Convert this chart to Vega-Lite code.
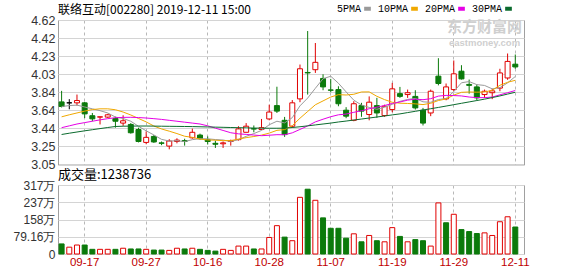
{
"$schema":"https://vega.github.io/schema/vega-lite/v6.json",
"background":"white",
"padding":{"left":12,"top":3,"right":50,"bottom":0},
"spacing":-4,
"config":{"view":{"stroke":"#a0a0a0","strokeWidth":1},"font":"Liberation Sans","axis":{"labelFont":"Liberation Sans"},
"axisQuantitative":{"labelOverlap":false}},
"datasets":{"k":[
{"d":"09-11","o":3.73,"h":3.85,"l":3.67,"c":3.68,"v":462000,"vd":"d","m5":3.68,"m10":3.568,"m20":3.45,"m30":3.376},
{"d":"09-12","o":3.72,"h":3.76,"l":3.65,"c":3.72,"v":313000,"vd":"u","m5":3.69,"m10":3.59,"m20":3.47,"m30":3.39},
{"d":"09-16","o":3.72,"h":3.81,"l":3.69,"c":3.745,"v":412000,"vd":"u","m5":3.695,"m10":3.61,"m20":3.49,"m30":3.403},
{"d":"09-17","o":3.72,"h":3.73,"l":3.555,"c":3.60,"v":412000,"vd":"d","m5":3.675,"m10":3.63,"m20":3.505,"m30":3.416},
{"d":"09-18","o":3.58,"h":3.61,"l":3.52,"c":3.546,"v":214000,"vd":"d","m5":3.655,"m10":3.647,"m20":3.52,"m30":3.428},
{"d":"09-19","o":3.565,"h":3.57,"l":3.485,"c":3.568,"v":214000,"vd":"u","m5":3.635,"m10":3.655,"m20":3.535,"m30":3.44},
{"d":"09-20","o":3.565,"h":3.60,"l":3.555,"c":3.59,"v":214000,"vd":"u","m5":3.61,"m10":3.655,"m20":3.548,"m30":3.452},
{"d":"09-23","o":3.55,"h":3.57,"l":3.45,"c":3.52,"v":214000,"vd":"d","m5":3.565,"m10":3.645,"m20":3.558,"m30":3.463},
{"d":"09-24","o":3.50,"h":3.585,"l":3.47,"c":3.525,"v":264000,"vd":"u","m5":3.55,"m10":3.62,"m20":3.562,"m30":3.466},
{"d":"09-25","o":3.485,"h":3.50,"l":3.385,"c":3.395,"v":231000,"vd":"d","m5":3.52,"m10":3.588,"m20":3.563,"m30":3.467},
{"d":"09-26","o":3.43,"h":3.45,"l":3.29,"c":3.30,"v":231000,"vd":"d","m5":3.465,"m10":3.55,"m20":3.56,"m30":3.468},
{"d":"09-27","o":3.29,"h":3.41,"l":3.27,"c":3.345,"v":214000,"vd":"u","m5":3.416,"m10":3.513,"m20":3.555,"m30":3.468},
{"d":"09-30","o":3.355,"h":3.37,"l":3.285,"c":3.295,"v":181000,"vd":"d","m5":3.371,"m10":3.468,"m20":3.548,"m30":3.467},
{"d":"10-08","o":3.285,"h":3.30,"l":3.26,"c":3.28,"v":181000,"vd":"d","m5":3.323,"m10":3.436,"m20":3.54,"m30":3.466},
{"d":"10-09","o":3.25,"h":3.325,"l":3.215,"c":3.305,"v":165000,"vd":"u","m5":3.305,"m10":3.412,"m20":3.53,"m30":3.465},
{"d":"10-10","o":3.30,"h":3.335,"l":3.28,"c":3.315,"v":264000,"vd":"u","m5":3.308,"m10":3.386,"m20":3.52,"m30":3.464},
{"d":"10-11","o":3.31,"h":3.33,"l":3.255,"c":3.30,"v":231000,"vd":"d","m5":3.299,"m10":3.357,"m20":3.51,"m30":3.463},
{"d":"10-14","o":3.34,"h":3.44,"l":3.33,"c":3.40,"v":264000,"vd":"u","m5":3.32,"m10":3.345,"m20":3.50,"m30":3.462},
{"d":"10-15","o":3.37,"h":3.385,"l":3.32,"c":3.33,"v":214000,"vd":"d","m5":3.33,"m10":3.326,"m20":3.49,"m30":3.46},
{"d":"10-16","o":3.32,"h":3.355,"l":3.267,"c":3.30,"v":165000,"vd":"d","m5":3.329,"m10":3.317,"m20":3.47,"m30":3.458},
{"d":"10-17","o":3.28,"h":3.31,"l":3.23,"c":3.27,"v":132000,"vd":"d","m5":3.321,"m10":3.314,"m20":3.445,"m30":3.456},
{"d":"10-18","o":3.275,"h":3.30,"l":3.23,"c":3.285,"v":214000,"vd":"u","m5":3.316,"m10":3.309,"m20":3.42,"m30":3.454},
{"d":"10-21","o":3.30,"h":3.32,"l":3.255,"c":3.31,"v":165000,"vd":"u","m5":3.30,"m10":3.31,"m20":3.395,"m30":3.452},
{"d":"10-22","o":3.32,"h":3.466,"l":3.31,"c":3.437,"v":363000,"vd":"u","m5":3.32,"m10":3.326,"m20":3.383,"m30":3.45},
{"d":"10-23","o":3.40,"h":3.50,"l":3.40,"c":3.466,"v":363000,"vd":"u","m5":3.356,"m10":3.342,"m20":3.377,"m30":3.448},
{"d":"10-24","o":3.44,"h":3.474,"l":3.40,"c":3.435,"v":231000,"vd":"d","m5":3.386,"m10":3.354,"m20":3.37,"m30":3.446},
{"d":"10-25","o":3.43,"h":3.545,"l":3.43,"c":3.45,"v":231000,"vd":"u","m5":3.42,"m10":3.369,"m20":3.363,"m30":3.445},
{"d":"10-28","o":3.545,"h":3.70,"l":3.53,"c":3.62,"v":759000,"vd":"u","m5":3.482,"m10":3.391,"m20":3.368,"m30":3.444},
{"d":"10-29","o":3.69,"h":3.895,"l":3.61,"c":3.63,"v":1300000,"vd":"u","m5":3.52,"m10":3.421,"m20":3.374,"m30":3.444},
{"d":"10-30","o":3.53,"h":3.567,"l":3.35,"c":3.375,"v":775000,"vd":"d","m5":3.502,"m10":3.429,"m20":3.373,"m30":3.445},
{"d":"10-31","o":3.466,"h":3.75,"l":3.448,"c":3.72,"v":610000,"vd":"u","m5":3.559,"m10":3.472,"m20":3.394,"m30":3.452},
{"d":"11-01","o":3.763,"h":4.136,"l":3.727,"c":4.09,"v":2600000,"vd":"u","m5":3.687,"m10":3.553,"m20":3.431,"m30":3.46},
{"d":"11-04","o":4.05,"h":4.50,"l":3.81,"c":4.045,"v":2973000,"vd":"d","m5":3.772,"m10":3.626,"m20":3.469,"m30":3.47},
{"d":"11-05","o":4.08,"h":4.37,"l":4.045,"c":4.16,"v":2465000,"vd":"u","m5":3.878,"m10":3.699,"m20":3.513,"m30":3.48},
{"d":"11-06","o":3.985,"h":4.03,"l":3.857,"c":3.893,"v":1658000,"vd":"d","m5":3.982,"m10":3.741,"m20":3.542,"m30":3.49},
{"d":"11-07","o":3.86,"h":3.98,"l":3.835,"c":3.857,"v":1180000,"vd":"d","m5":4.009,"m10":3.783,"m20":3.569,"m30":3.50},
{"d":"11-08","o":3.864,"h":3.90,"l":3.683,"c":3.71,"v":1180000,"vd":"d","m5":3.933,"m10":3.809,"m20":3.59,"m30":3.512},
{"d":"11-11","o":3.64,"h":3.673,"l":3.553,"c":3.575,"v":726000,"vd":"d","m5":3.839,"m10":3.805,"m20":3.598,"m30":3.522},
{"d":"11-12","o":3.53,"h":3.738,"l":3.52,"c":3.71,"v":926000,"vd":"u","m5":3.749,"m10":3.813,"m20":3.617,"m30":3.533},
{"d":"11-13","o":3.69,"h":3.72,"l":3.568,"c":3.63,"v":560000,"vd":"d","m5":3.696,"m10":3.838,"m20":3.634,"m30":3.544},
{"d":"11-14","o":3.593,"h":3.79,"l":3.53,"c":3.727,"v":851000,"vd":"u","m5":3.67,"m10":3.839,"m20":3.656,"m30":3.555},
{"d":"11-15","o":3.69,"h":3.774,"l":3.557,"c":3.61,"v":610000,"vd":"d","m5":3.65,"m10":3.791,"m20":3.673,"m30":3.566},
{"d":"11-18","o":3.582,"h":3.70,"l":3.568,"c":3.683,"v":560000,"vd":"u","m5":3.672,"m10":3.755,"m20":3.691,"m30":3.577},
{"d":"11-19","o":3.647,"h":3.937,"l":3.618,"c":3.872,"v":1210000,"vd":"u","m5":3.704,"m10":3.726,"m20":3.713,"m30":3.589},
{"d":"11-20","o":3.82,"h":3.893,"l":3.774,"c":3.79,"v":807000,"vd":"d","m5":3.736,"m10":3.716,"m20":3.729,"m30":3.60},
{"d":"11-21","o":3.81,"h":3.864,"l":3.774,"c":3.83,"v":560000,"vd":"u","m5":3.757,"m10":3.713,"m20":3.749,"m30":3.614},
{"d":"11-22","o":3.79,"h":3.857,"l":3.647,"c":3.665,"v":660000,"vd":"d","m5":3.768,"m10":3.709,"m20":3.76,"m30":3.628},
{"d":"11-25","o":3.64,"h":3.665,"l":3.474,"c":3.50,"v":610000,"vd":"d","m5":3.731,"m10":3.701,"m20":3.754,"m30":3.642},
{"d":"11-26","o":3.61,"h":3.864,"l":3.575,"c":3.846,"v":363000,"vd":"u","m5":3.726,"m10":3.715,"m20":3.765,"m30":3.656},
{"d":"11-27","o":4.01,"h":4.205,"l":3.91,"c":3.93,"v":2345000,"vd":"u","m5":3.756,"m10":3.745,"m20":3.793,"m30":3.67},
{"d":"11-28","o":3.763,"h":3.93,"l":3.748,"c":3.893,"v":1434000,"vd":"d","m5":3.768,"m10":3.762,"m20":3.801,"m30":3.685},
{"d":"11-29","o":3.864,"h":4.18,"l":3.846,"c":4.035,"v":1823000,"vd":"u","m5":3.842,"m10":3.804,"m20":3.799,"m30":3.70},
{"d":"12-02","o":4.064,"h":4.129,"l":3.973,"c":3.98,"v":1120000,"vd":"d","m5":3.938,"m10":3.834,"m20":3.795,"m30":3.715},
{"d":"12-03","o":3.92,"h":3.973,"l":3.82,"c":3.91,"v":1030000,"vd":"d","m5":3.951,"m10":3.838,"m20":3.783,"m30":3.73},
{"d":"12-04","o":3.893,"h":3.92,"l":3.748,"c":3.774,"v":940000,"vd":"d","m5":3.918,"m10":3.836,"m20":3.777,"m30":3.745},
{"d":"12-05","o":3.81,"h":3.864,"l":3.774,"c":3.846,"v":970000,"vd":"u","m5":3.909,"m10":3.838,"m20":3.776,"m30":3.76},
{"d":"12-06","o":3.83,"h":3.875,"l":3.76,"c":3.85,"v":850000,"vd":"u","m5":3.872,"m10":3.856,"m20":3.783,"m30":3.777},
{"d":"12-09","o":3.88,"h":4.09,"l":3.846,"c":4.045,"v":1480000,"vd":"u","m5":3.885,"m10":3.911,"m20":3.807,"m30":3.795},
{"d":"12-10","o":3.99,"h":4.256,"l":3.97,"c":4.17,"v":1708000,"vd":"u","m5":3.937,"m10":3.943,"m20":3.83,"m30":3.815},
{"d":"12-11","o":4.14,"h":4.245,"l":4.09,"c":4.11,"v":1238736,"vd":"d","m5":4.006,"m10":3.965,"m20":3.854,"m30":3.835}
]},
"vconcat":[
{
"width":466,"height":144.5,
"title":{"text":"联络互动[002280] 2019-12-11 15:00","anchor":"start","frame":"group","font":"Noto Sans CJK SC","fontSize":12,"fontWeight":"normal","color":"#000000","offset":-3},
"data":{"name":"k"},
"encoding":{
"x":{"field":"d","type":"ordinal","scale":{"type":"band","paddingInner":0.35,"paddingOuter":0.475,"align":0.15},"axis":{"values":["09-17","09-27","10-16","10-28","11-07","11-19","11-29","12-11"],"labels":false,"ticks":false,"domain":false,"title":null,"grid":true,"gridDash":[3,3],"gridColor":"#b8b8b8","bandPosition":0.5}}
},
"layer":[
{"mark":{"type":"rule","strokeWidth":1},"encoding":{"y":{"field":"l","type":"quantitative","scale":{"domain":[3.05,4.62],"nice":false,"zero":false},"axis":{"values":[3.05,3.2463,3.4425,3.6388,3.8351,4.0313,4.2275,4.4238,4.62],"format":".2f","title":null,"domain":false,"ticks":false,"labelOverlap":false,"labelFlush":false,"labelFontSize":12.5,"labelColor":"#333333","gridColor":"#d4d4d4","labelPadding":3}},"y2":{"field":"h"},"color":{"condition":[{"test":"datum.c==datum.o","value":"#000000"},{"test":"datum.c<datum.o","value":"#0b7a0b"}],"value":"#e00000"}}},
{"mark":{"type":"bar","strokeWidth":1},"encoding":{"y":{"field":"o","type":"quantitative","axis":{"values":[3.05,3.2463,3.4425,3.6388,3.8351,4.0313,4.2275,4.4238,4.62],"format":".2f","title":null,"domain":false,"ticks":false,"labelOverlap":false,"labelFlush":false,"labelFontSize":12.5,"labelColor":"#333333","gridColor":"#d4d4d4","labelPadding":3}},"y2":{"field":"c"},"fill":{"condition":{"test":"datum.c<datum.o","value":"#0b7a0b"},"value":"#ffffff"},"stroke":{"condition":[{"test":"datum.c==datum.o","value":"#000000"},{"test":"datum.c<datum.o","value":"#0b7a0b"}],"value":"#e00000"}}},
{"transform":[{"fold":["m5","m10","m20","m30"],"as":["ma","val"]}],"mark":{"type":"line","strokeWidth":1},"encoding":{"y":{"field":"val","type":"quantitative","axis":{"values":[3.05,3.2463,3.4425,3.6388,3.8351,4.0313,4.2275,4.4238,4.62],"format":".2f","title":null,"domain":false,"ticks":false,"labelOverlap":false,"labelFlush":false,"labelFontSize":12.5,"labelColor":"#333333","gridColor":"#d4d4d4","labelPadding":3}},"color":{"field":"ma","type":"nominal","scale":{"domain":["m5","m10","m20","m30"],"range":["#9a9a9a","#f0a800","#e600e6","#0b6b2e"]},"legend":{"orient":"none","legendX":304,"legendY":-17,"direction":"horizontal","title":null,"symbolType":"stroke","symbolStrokeWidth":4,"symbolSize":45,"labelExpr":"datum.value=='m5'?'5PMA':datum.value=='m10'?'10PMA':datum.value=='m20'?'20PMA':'30PMA'","labelFont":"Liberation Mono","labelFontSize":10,"labelColor":"#000000","labelAlign":"right","labelOffset":-12,"columnPadding":-2}}}},
{"data":{"values":[{"t":"东方财富网"}]},"mark":{"type":"text","font":"Noto Sans CJK SC","fontSize":15,"fontWeight":"bold","color":"#cfcfcf"},"encoding":{"x":{"datum":"12-05"},"y":{"datum":4.54,"type":"quantitative","axis":{"values":[3.05,3.2463,3.4425,3.6388,3.8351,4.0313,4.2275,4.4238,4.62],"format":".2f","title":null,"domain":false,"ticks":false,"labelOverlap":false,"labelFlush":false,"labelFontSize":12.5,"labelColor":"#333333","gridColor":"#d4d4d4","labelPadding":3}},"text":{"field":"t"}}},
{"data":{"values":[{"t":"eastmoney.com"}]},"mark":{"type":"text","font":"Liberation Sans","fontSize":9.5,"fontWeight":"bold","color":"#cfcfcf"},"encoding":{"x":{"datum":"12-05"},"y":{"datum":4.37,"type":"quantitative","axis":{"values":[3.05,3.2463,3.4425,3.6388,3.8351,4.0313,4.2275,4.4238,4.62],"format":".2f","title":null,"domain":false,"ticks":false,"labelOverlap":false,"labelFlush":false,"labelFontSize":12.5,"labelColor":"#333333","gridColor":"#d4d4d4","labelPadding":3}},"text":{"field":"t"}}}
]
},
{
"width":466,"height":69,
"title":{"text":"成交量:1238736","anchor":"start","frame":"group","font":"Noto Sans CJK SC","fontSize":13,"fontWeight":"normal","color":"#000000","offset":-3},
"data":{"name":"k"},
"mark":{"type":"bar","strokeWidth":1},
"encoding":{
"x":{"field":"d","type":"ordinal","scale":{"type":"band","paddingInner":0.35,"paddingOuter":0.475,"align":0.15},"axis":{"values":["09-17","09-27","10-16","10-28","11-07","11-19","11-29","12-11"],"ticks":false,"domain":false,"title":null,"grid":true,"gridDash":[3,3],"gridColor":"#b8b8b8","bandPosition":0.5,"labelAngle":0,"labelColor":"#c00000","labelFontSize":11.5,"labelPadding":2}},
"y":{"field":"v","type":"quantitative","scale":{"domain":[0,3166400],"nice":false},"axis":{"values":[0,791600,1583200,2374800,3166400],"labelExpr":"datum.value==0?'0':datum.value==791600?'79.16万':datum.value==1583200?'158万':datum.value==2374800?'237万':'317万'","title":null,"domain":false,"ticks":false,"labelOverlap":false,"labelFontSize":12,"labelColor":"#333333","gridColor":"#d4d4d4","labelPadding":3}},
"fill":{"condition":{"test":"datum.vd=='d'","value":"#0b7a0b"},"value":"#ffffff"},
"stroke":{"condition":{"test":"datum.vd=='d'","value":"#0b7a0b"},"value":"#e00000"}
}
}
]
}
